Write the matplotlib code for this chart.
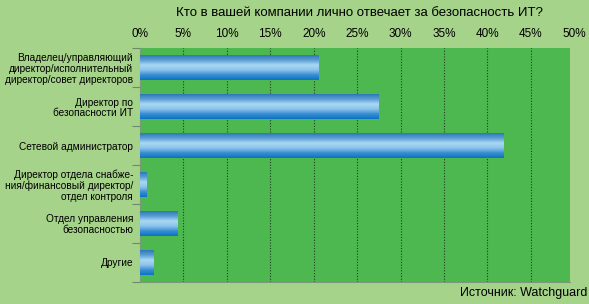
import numpy as np
import matplotlib
matplotlib.use("Agg")
import matplotlib.pyplot as plt
from matplotlib.colors import LinearSegmentedColormap
from matplotlib.transforms import ScaledTranslation

plt.rcParams["font.family"] = ["Liberation Sans", "DejaVu Sans"]

title = "Кто в вашей компании лично отвечает за безопасность ИТ?"
source = "Источник: Watchguard"
categories = [
    "Владелец/управляющий\nдиректор/исполнительный\nдиректор/совет директоров",
    "Директор по\nбезопасности ИТ",
    "Сетевой администратор",
    "Директор отдела снабже-\nния/финансовый директор/\nотдел контроля",
    "Отдел управления\nбезопасностью",
    "Другие",
]
values = [20.5, 27.5, 41.9, 0.8, 4.3, 1.6]
xticks = [0, 5, 10, 15, 20, 25, 30, 35, 40, 45]

BG = "#a6d38a"
PLOT_BG = "#4cb84f"
bar_h = 0.62

# cylinder-like gradient, top to bottom
cyl = LinearSegmentedColormap.from_list(
    "cyl", ["#2f78b8", "#5d9fd6", "#a9d8f2", "#8cc4ec", "#3a8ed2", "#0a74c4"]
)
grad = np.linspace(0, 1, 64).reshape(-1, 1)

fig = plt.figure(figsize=(5.89, 3.04), dpi=100, facecolor=BG)
ax = fig.add_axes([140 / 589, 1 - 282 / 304, 430 / 589, 234 / 304])
ax.set_facecolor(PLOT_BG)

n = len(categories)
ypos = np.arange(n)

for y, v in zip(ypos, values):
    ax.imshow(grad, cmap=cyl, aspect="auto", interpolation="bilinear",
              extent=(0, v, y + bar_h / 2, y - bar_h / 2), zorder=3)
ax.set_xlim(0, 49.5)
ax.set_ylim(n - 0.5, -0.5)

for x in xticks[1:]:
    ax.axvline(x, color="#2a3a2a", lw=0.8, ls=(0, (1, 1.5)), zorder=1)

ax.xaxis.tick_top()
ax.set_xticks(xticks)
ax.set_xticklabels([f"{t}%" for t in xticks], fontsize=8.5)
ax.tick_params(axis="x", length=0, pad=6)
# 50% sits just past the right edge of the plot area
ax.text(50, -0.5, "50%", fontsize=8.5, ha="center", va="bottom", clip_on=False,
        transform=ax.transData + ScaledTranslation(0, 6 / 72, fig.dpi_scale_trans))

ax.set_yticks(np.arange(n + 1) - 0.5)
ax.set_yticklabels([])
ax.tick_params(axis="y", which="major", direction="out", length=6,
               color="#6a8a6a", width=0.8)
ax.set_yticks(ypos, minor=True)
ax.set_yticklabels(categories, minor=True, fontsize=7.3, linespacing=1.1)
ax.tick_params(axis="y", which="minor", length=0, pad=5)

for s in ["top", "right"]:
    ax.spines[s].set_visible(False)
ax.spines["left"].set_color("#7a9a7a")
ax.spines["left"].set_linestyle((0, (1, 1)))
ax.spines["bottom"].set_color("#7a9a7a")
ax.spines["bottom"].set_linestyle((0, (1, 1)))

fig.text(360 / 589, 1 - 13 / 304, title, fontsize=9.5, ha="center", va="center")
fig.text(587 / 589, 1 - 293 / 304, source, fontsize=9, ha="right", va="center")

fig.savefig("out.png", dpi=100, facecolor=BG)
